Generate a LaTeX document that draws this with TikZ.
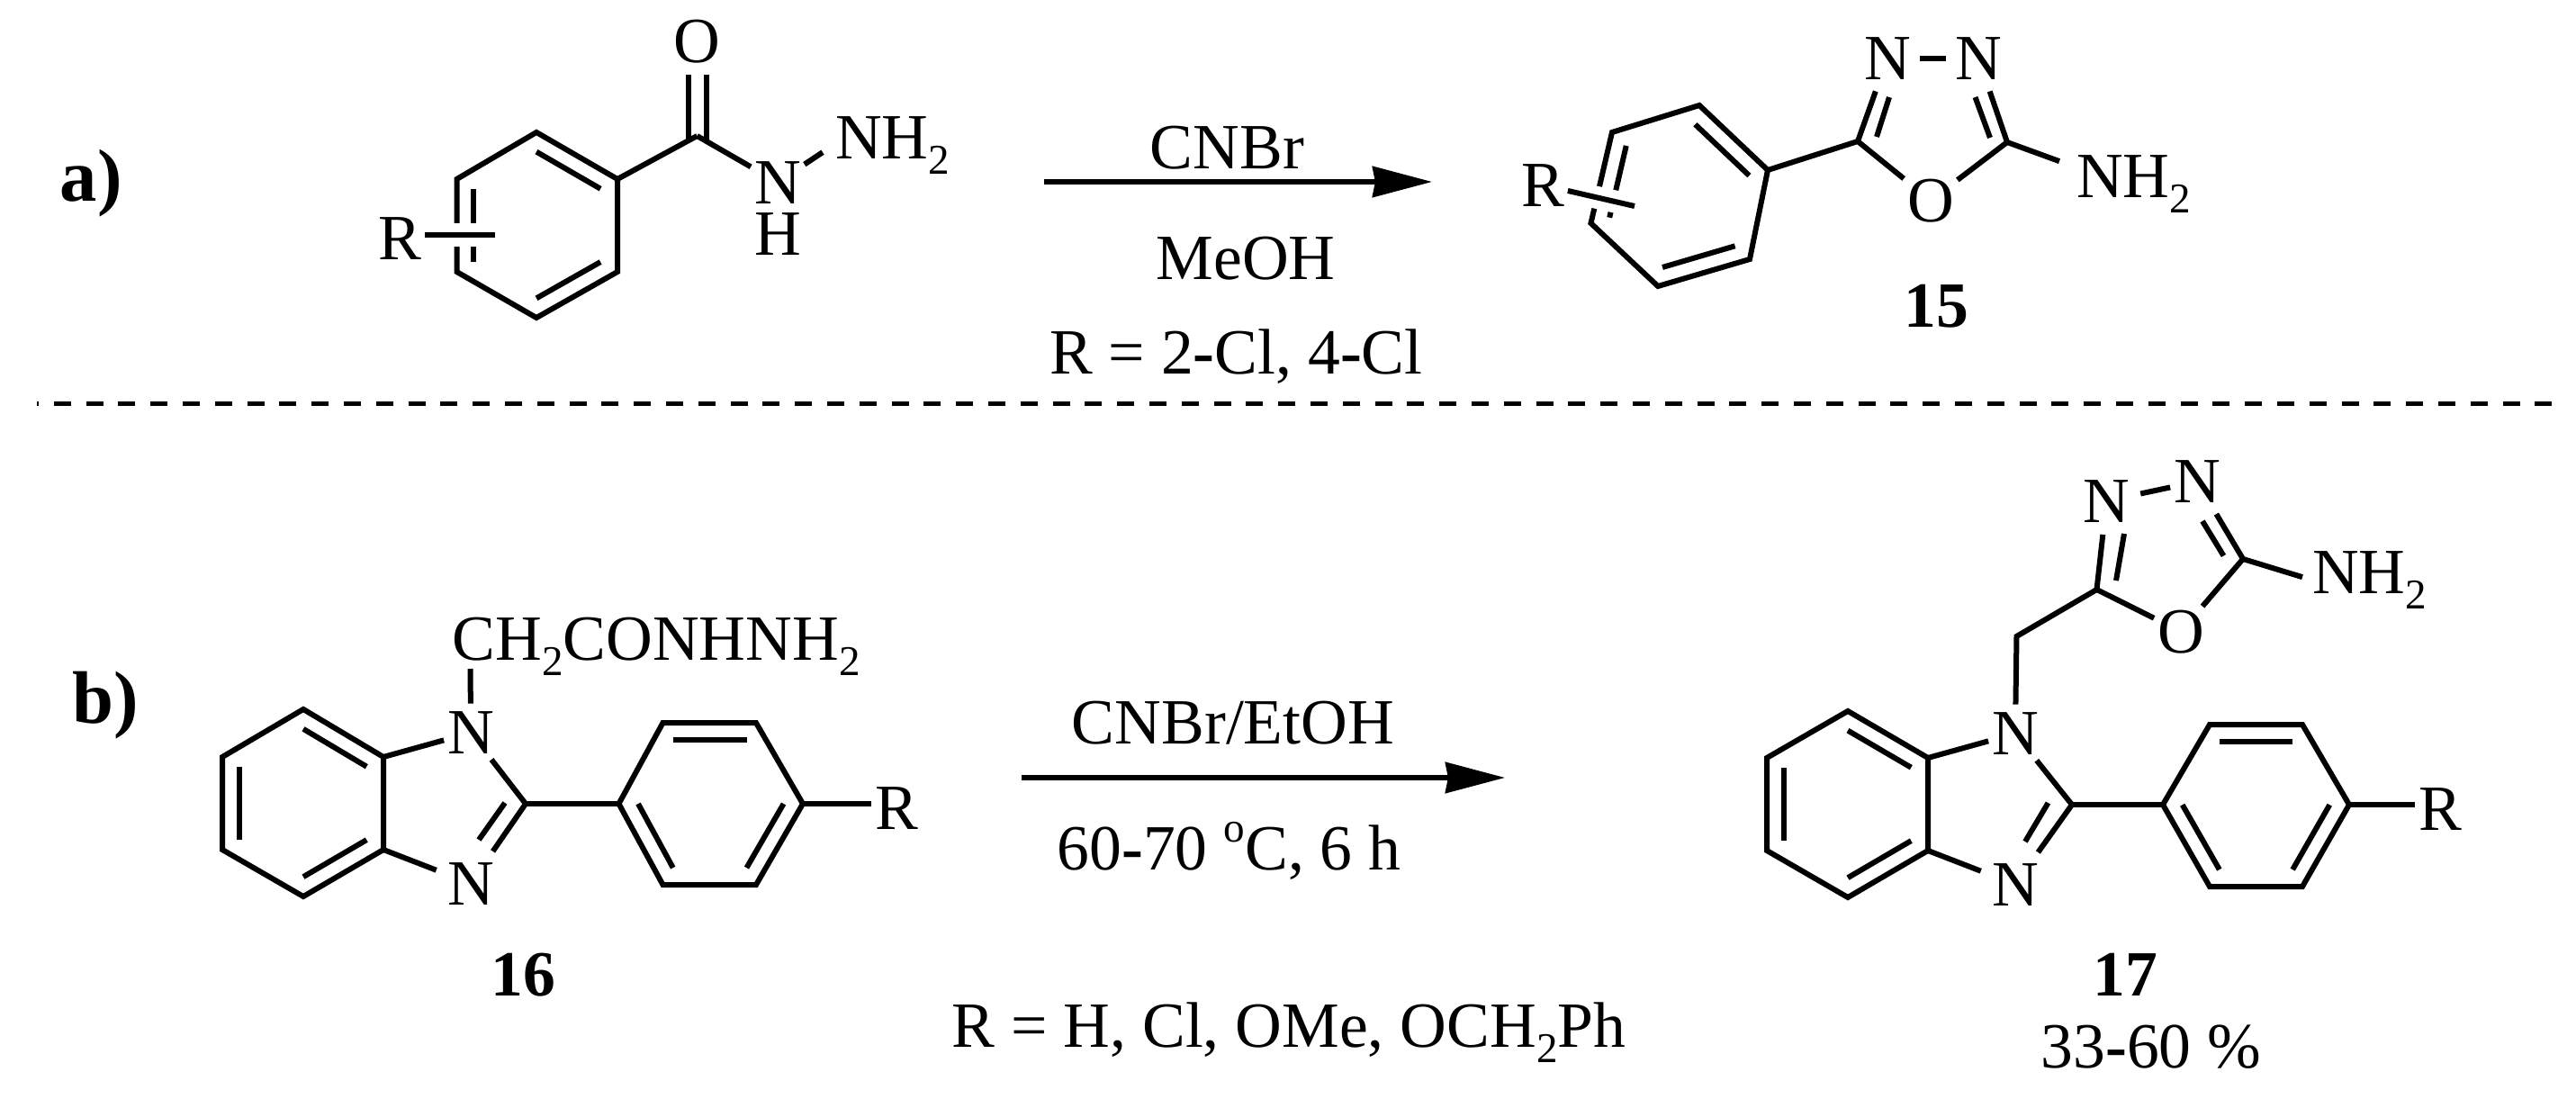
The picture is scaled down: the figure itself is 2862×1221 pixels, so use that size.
\documentclass[tikz,border=0pt]{standalone}
\usepackage{fontspec}
\setmainfont{Liberation Serif}
\usetikzlibrary{calc}
\usetikzlibrary{arrows.meta}

\newcommand{\chemfont}{\fontsize{20.37}{24}\selectfont}
\newcommand{\labfont}{\fontsize{23.5}{28}\selectfont\bfseries}
\newcommand{\subtwo}{\raisebox{-.24em}{\fontsize{13.4}{14}\selectfont 2}}
\newcommand{\dego}{\raisebox{.42em}{\fontsize{13.4}{14}\selectfont o}}
\newcommand{\innerbond}[3]{\draw[bond] ($(#1)!.21!(#3)$) -- ($(#2)!.21!(#3)$);}

\tikzset{
    bond/.style={black, line width=.06cm},
    halobond/.style={bond, preaction={draw, white, line width=.25cm}},
    atom/.style={font=\chemfont, anchor=base, inner sep=.04cm, outer sep=0pt},
    chemtext/.style={font=\chemfont, anchor=base, inner sep=0pt},
    leftgroup/.style={font=\chemfont, anchor=base west, inner sep=.05cm, outer sep=0pt},
    compound/.style={font=\chemfont\bfseries, anchor=base, inner sep=0pt},
    partlabel/.style={font=\labfont, anchor=base west, inner sep=0pt},
    reaction/.style={black, line width=.055cm, -{Stealth[length=.66cm, width=.34cm, inset=.03cm]}}
}

\begin{document}
\begin{tikzpicture}[x=.01cm, y=-.01cm]
    \useasboundingbox (0,0) rectangle (2862,1221);

    % part a
    \node[partlabel] (laba) at (66,223) {a)};
    \coordinate (a1) at (596,147);
    \coordinate (a2) at (686,199);
    \coordinate (a3) at (686,302);
    \coordinate (a4) at (596,353);
    \coordinate (a5) at (507.5,302);
    \coordinate (a6) at (507.5,199);
    \coordinate (acen) at (596,250);
    \coordinate (acarb) at (774.5,151);
    \coordinate (asub) at (550,261);
    \coordinate (aoa) at (765,83);
    \coordinate (aob) at (785,83);
    \coordinate (aca) at (765,156);
    \coordinate (acb) at (785,156);
    \node[atom] (Oa) at (774.5,70) {O};
    \node[atom] (Nha) at (864,226) {N};
    \node[atom] (Ha) at (864,283) {H};
    \node[leftgroup] (nhtwoa) at (923,176) {NH\subtwo};
    \node[atom] (Ra) at (444,288) {R};
    \draw[bond] (a1) -- (a2) -- (a3) -- (a4) -- (a5) -- (a6) -- cycle;
    \innerbond{a1}{a2}{acen}
    \innerbond{a3}{a4}{acen}
    \innerbond{a5}{a6}{acen}
    \draw[bond] (a2) -- (acarb);
    \draw[bond] (aoa) -- (aca);
    \draw[bond] (aob) -- (acb);
    \draw[bond] (acarb) -- (Nha);
    \draw[bond] (Nha) -- ($(nhtwoa.west)+(-9,8)$);
    \draw[halobond] (Ra.east |- asub) -- (asub);

    \coordinate (arra) at (1160,202);
    \coordinate (arrb) at (1591,202);
    \draw[reaction] (arra) -- (arrb);
    \node[chemtext] (cnbr) at (1363.5,187) {CNBr};
    \node[chemtext] (meoh) at (1384,310) {MeOH};
    \node[chemtext] (rcl) at (1373.4,415) {R = 2\textbf{-}Cl, 4\textbf{-}Cl};

    \coordinate (b1) at (1888,117);
    \coordinate (b2) at (1964,189);
    \coordinate (b3) at (1944,288);
    \coordinate (b4) at (1842,318);
    \coordinate (b5) at (1767.5,248);
    \coordinate (b6) at (1791,147);
    \coordinate (bcen) at (1866,218);
    \coordinate (bsub) at (1816,229);
    \coordinate (bc5) at (2064,157);
    \coordinate (bc2) at (2230,158);
    \coordinate (bia) at (2085,152);
    \coordinate (bib) at (2099,108);
    \coordinate (bic) at (2211,153);
    \coordinate (bid) at (2194.5,108);
    \node[atom] (Nba) at (2097,88) {N};
    \node[atom] (Nbb) at (2198,88) {N};
    \node[atom] (Ob) at (2145,246) {O};
    \node[atom] (Rb) at (1714,229) {R};
    \node[leftgroup] (nhtwob) at (2302,219) {NH\subtwo};
    \draw[bond] (b1) -- (b2) -- (b3) -- (b4) -- (b5) -- (b6) -- cycle;
    \innerbond{b1}{b2}{bcen}
    \innerbond{b3}{b4}{bcen}
    \innerbond{b5}{b6}{bcen}
    \draw[bond] (b2) -- (bc5);
    \draw[bond, shorten >=.1cm] (bc5) -- (Nba);
    \draw[bond] (bia) -- (bib);
    \draw[bond, shorten >=.1cm] (bc2) -- (Nbb);
    \draw[bond] (bic) -- (bid);
    \draw[bond, shorten >=.06cm, shorten <=.06cm] (Nba) -- (Nbb);
    \draw[bond] (bc5) -- (Ob);
    \draw[bond] (bc2) -- (Ob);
    \draw[bond] (bc2) -- ($(nhtwob.west)+(-14,-25)$);
    \draw[halobond] (Rb) -- (bsub);
    \node[compound] (numa) at (2151,363) {15};

    \draw[black, line width=.05cm, dash pattern=on .19cm off .1678cm, dash phase=.17cm] (41,448.5) -- (2836,448.5);

    % part b
    \node[partlabel] (labb) at (80,803) {b)};
    \coordinate (c1) at (337,788);
    \coordinate (c2) at (426,841);
    \coordinate (c3) at (426,944);
    \coordinate (c4) at (337,996);
    \coordinate (c5) at (247,944);
    \coordinate (c6) at (247,841);
    \coordinate (ccen) at (337,892);
    \coordinate (cim) at (584,893);
    \coordinate (d1) at (687.5,893);
    \coordinate (d2) at (736.5,803);
    \coordinate (d3) at (840,803);
    \coordinate (d4) at (892,893);
    \coordinate (d5) at (840,983);
    \coordinate (d6) at (736.5,983);
    \coordinate (dcen) at (790,893);
    \coordinate (cia) at (561,892);
    \coordinate (cib) at (532,933);
    \coordinate (ctop) at (522.6,743);
    \node[atom] (Nca) at (523,837.5) {N};
    \node[atom] (Ncb) at (523,1005) {N};
    \node[atom] (Rc) at (996,921) {R};
    \node[chemtext, anchor=base west] (chain) at (502,733.5) {CH\subtwo CONHNH\subtwo};
    \draw[bond] (c1) -- (c2) -- (c3) -- (c4) -- (c5) -- (c6) -- cycle;
    \innerbond{c1}{c2}{ccen}
    \innerbond{c3}{c4}{ccen}
    \innerbond{c5}{c6}{ccen}
    \draw[bond] (c2) -- (Nca);
    \draw[bond, shorten >=.09cm] (c3) -- (Ncb);
    \draw[bond, shorten <=.03cm] (Nca) -- (cim);
    \draw[bond, shorten >=.1cm] (cim) -- (Ncb);
    \draw[bond] (cia) -- (cib);
    \draw[bond] (cim) -- (d1);
    \draw[bond, shorten >=.05cm] (ctop) -- (Nca);
    \draw[bond] (d1) -- (d2) -- (d3) -- (d4) -- (d5) -- (d6) -- cycle;
    \innerbond{d2}{d3}{dcen}
    \innerbond{d4}{d5}{dcen}
    \innerbond{d6}{d1}{dcen}
    \draw[bond] (d4) -- (d4 -| Rc.west);
    \node[compound] (numb) at (581,1106) {16};

    \coordinate (arrc) at (1135,864);
    \coordinate (arrd) at (1672,864);
    \draw[reaction] (arrc) -- (arrd);
    \node[chemtext] (cnbre) at (1370,826) {CNBr/EtOH};
    \node[chemtext] (temp) at (1365.5,966) {60\textbf{-}70 \dego C, 6 h};
    \node[chemtext] (rlist) at (1432,1163) {R = H, Cl, OMe, OCH\subtwo Ph};

    \coordinate (e1) at (2053,790);
    \coordinate (e2) at (2142,842);
    \coordinate (e3) at (2142,945);
    \coordinate (e4) at (2053,997);
    \coordinate (e5) at (1963,945);
    \coordinate (e6) at (1963,842);
    \coordinate (ecen) at (2053,893);
    \coordinate (eim) at (2302,894);
    \coordinate (f1) at (2403,894);
    \coordinate (f2) at (2455,805);
    \coordinate (f3) at (2558,805);
    \coordinate (f4) at (2610,894);
    \coordinate (f5) at (2558,985);
    \coordinate (f6) at (2455,985);
    \coordinate (fcen) at (2506.5,895);
    \coordinate (eia) at (2275.5,892);
    \coordinate (eib) at (2250,935);
    \coordinate (ech) at (2240.5,707);
    \coordinate (gc5) at (2329.5,655);
    \coordinate (gc2) at (2492,621);
    \coordinate (gia) at (2351,645);
    \coordinate (gib) at (2360,593);
    \coordinate (gic) at (2470.5,617.5);
    \coordinate (gid) at (2447,579);
    \node[atom] (Nea) at (2239,838.5) {N};
    \node[atom] (Neb) at (2239,1006) {N};
    \node[atom] (Re) at (2711,922) {R};
    \node[atom] (Nga) at (2340.5,580) {N};
    \node[atom] (Ngb) at (2441,558.5) {N};
    \node[atom] (Og) at (2423,725) {O};
    \node[leftgroup] (nhtwog) at (2564,659) {NH\subtwo};
    \draw[bond] (e1) -- (e2) -- (e3) -- (e4) -- (e5) -- (e6) -- cycle;
    \innerbond{e1}{e2}{ecen}
    \innerbond{e3}{e4}{ecen}
    \innerbond{e5}{e6}{ecen}
    \draw[bond] (e2) -- (Nea);
    \draw[bond, shorten >=.09cm] (e3) -- (Neb);
    \draw[bond, shorten <=.03cm] (Nea) -- (eim);
    \draw[bond, shorten >=.1cm] (eim) -- (Neb);
    \draw[bond] (eia) -- (eib);
    \draw[bond] (eim) -- (f1);
    \draw[bond] (f1) -- (f2) -- (f3) -- (f4) -- (f5) -- (f6) -- cycle;
    \innerbond{f2}{f3}{fcen}
    \innerbond{f4}{f5}{fcen}
    \innerbond{f6}{f1}{fcen}
    \draw[bond] (f4) -- (f4 -| Re.west);
    \draw[bond, shorten <=.05cm] (Nea) -- (ech) -- (gc5);
    \draw[bond, shorten >=.1cm] (gc5) -- (Nga);
    \draw[bond] (gia) -- (gib);
    \draw[bond, shorten >=.1cm] (gc2) -- (Ngb);
    \draw[bond] (gic) -- (gid);
    \draw[bond, shorten <=.08cm] (Nga) -- (Ngb);
    \draw[bond] (gc5) -- (Og);
    \draw[bond] (gc2) -- (Og);
    \draw[bond] (gc2) -- ($(nhtwog.west)+(-6,-3)$);
    \node[compound] (numc) at (2361,1106) {17};
    \node[chemtext] (yield) at (2390,1186) {33\textbf{-}60 \%};
\end{tikzpicture}
\end{document}
